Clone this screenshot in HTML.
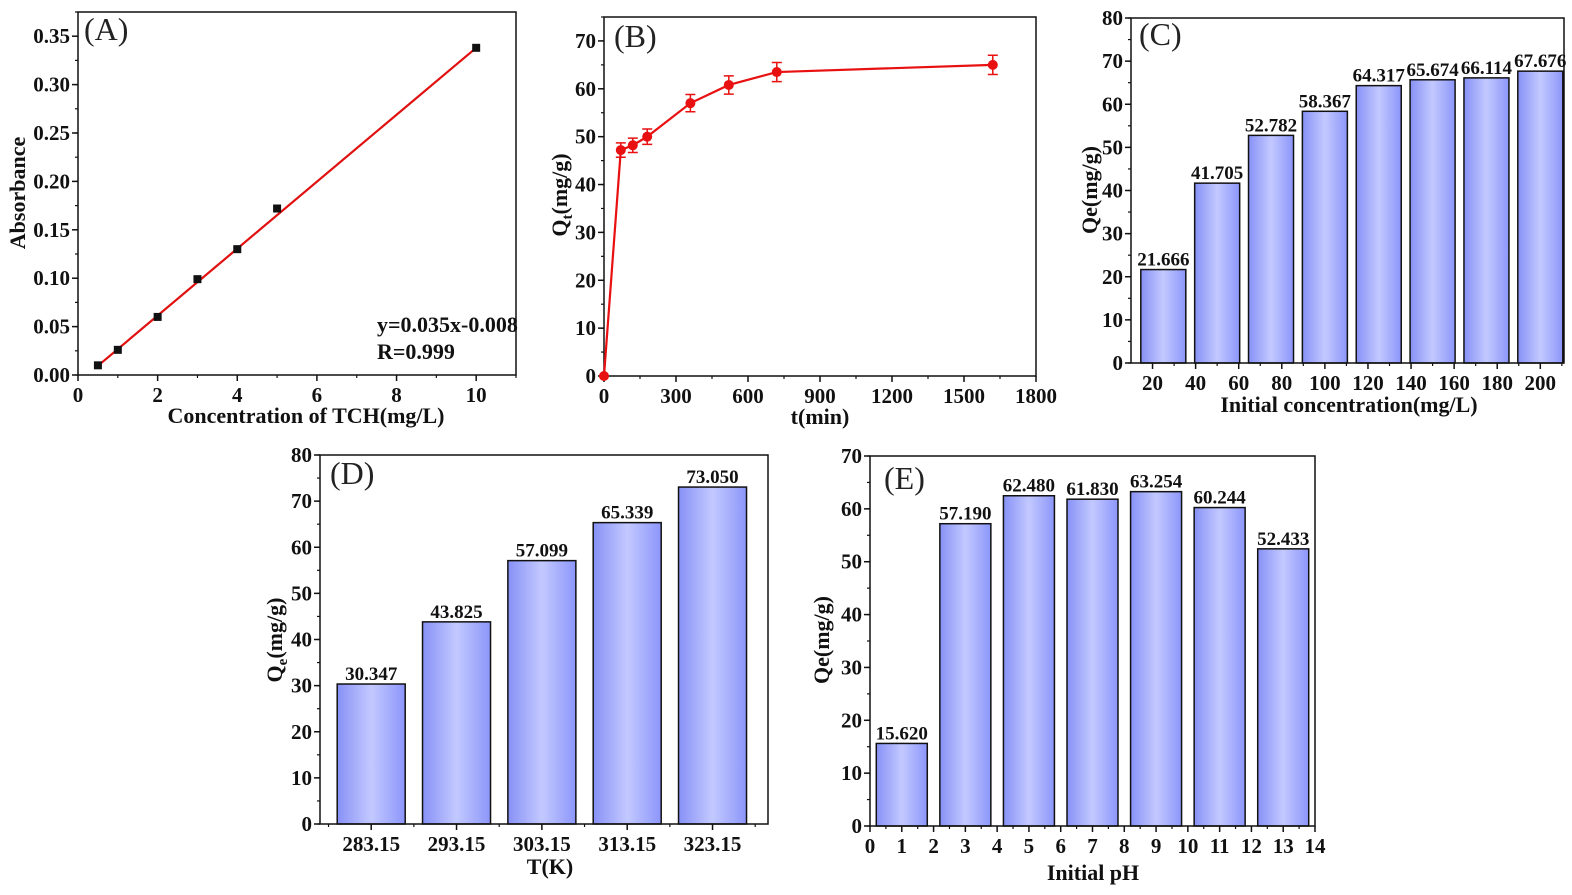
<!DOCTYPE html>
<html><head><meta charset="utf-8">
<style>
html,body{margin:0;padding:0;background:#fff;}
svg{display:block;font-family:"Liberation Serif","Times New Roman",serif;}
svg text{font-family:"Liberation Serif","Times New Roman",serif;}
.tk{font-weight:bold;font-size:21px;fill:#111;}
.at{font-weight:bold;font-size:22px;fill:#111;}
.pl{font-size:32px;fill:#222;}
.vl{font-weight:bold;font-size:19px;fill:#111;}
</style></head>
<body>
<svg id="fig" width="1572" height="895" viewBox="0 0 1572 895" xmlns="http://www.w3.org/2000/svg">
<defs>
<linearGradient id="bg" x1="0" x2="1" y1="0" y2="0">
<stop offset="0" stop-color="#8791f6"/><stop offset="0.5" stop-color="#c3c9ff"/><stop offset="1" stop-color="#8c96fa"/>
</linearGradient>
</defs>
</svg>
<script>
// Panel A data
const aX=[0.5,1,2,3,4,5,10];
const aY=[0.010,0.026,0.060,0.099,0.130,0.172,0.338];
const aFitX=[0.5,10];
const aFitY=[0.0095,0.338];
const aXTicks=[0,2,4,6,8,10];
const aYTicks=[0,0.05,0.10,0.15,0.20,0.25,0.30,0.35];
// Panel B data
const bT=[0,70,120,180,360,520,720,1620];
const bQ=[0,47.2,48.2,50.0,57.0,60.8,63.5,65.0];
const bErr=[0,1.5,1.5,1.6,1.8,1.9,2.0,2.0];
const bXTicks=[0,300,600,900,1200,1500,1800];
const bYTicks=[0,10,20,30,40,50,60,70];
// Panel C data
const cCat=[25,50,75,100,125,150,175,200];
const cVal=[21.666,41.705,52.782,58.367,64.317,65.674,66.114,67.676];
const cXTicks=[20,40,60,80,100,120,140,160,180,200];
const cYTicks=[0,10,20,30,40,50,60,70,80];
// Panel D data
const dCat=["283.15","293.15","303.15","313.15","323.15"];
const dVal=[30.347,43.825,57.099,65.339,73.050];
const dYTicks=[0,10,20,30,40,50,60,70,80];
// Panel E data
const eCat=[1,3,5,7,9,11,13];
const eVal=[15.620,57.190,62.480,61.830,63.254,60.244,52.433];
const eXTicks=[0,1,2,3,4,5,6,7,8,9,10,11,12,13,14];
const eYTicks=[0,10,20,30,40,50,60,70];

const NS="http://www.w3.org/2000/svg";
const svg=document.getElementById('fig');
function el(tag,attrs,parent,text){const e=document.createElementNS(NS,tag);for(const k in attrs)e.setAttribute(k,attrs[k]);if(text!==undefined)e.textContent=text;(parent||svg).appendChild(e);return e;}
function lin(d0,d1,r0,r1){return v=>r0+(v-d0)/(d1-d0)*(r1-r0);}

function frame(g,L,R,T,B){
  const f=el('rect',{x:L,y:T,width:R-L,height:B-T,fill:'none',stroke:'#111','stroke-width':1.5},g);
  
  
}
function yAxis(g,ys,ticks,L,fmt,minorStep,ymin,ymax){
  ticks.forEach(t=>{
    const y=ys(t);
    const l=el('line',{x1:L-6,x2:L,y1:y,y2:y,stroke:'#111','stroke-width':1.5},g);
    
    
    const tx=el('text',{x:L-8,y:y+7,'text-anchor':'end',class:'tk'},g,fmt(t));
    
    
  });
  for(let v=ymin;v<=ymax+1e-9;v+=minorStep){
    const y=ys(v);
    el('line',{x1:L-3,x2:L,y1:y,y2:y,stroke:'#111','stroke-width':1.2},g);
  }
}
function xAxis(g,xs,ticks,B,fmt,minor){
  ticks.forEach(t=>{
    const x=xs(t);
    const l=el('line',{x1:x,x2:x,y1:B,y2:B+6,stroke:'#111','stroke-width':1.5},g);
    
    
    const tx=el('text',{x:x,y:B+27,'text-anchor':'middle',class:'tk'},g,fmt(t));
    
    
  });
  (minor||[]).forEach(v=>{const x=xs(v);el('line',{x1:x,x2:x,y1:B,y2:B+3,stroke:'#111','stroke-width':1.2},g);});
}
function titles(g,xt,xx,xy,yt,yx,yy,sub){
  const a=el('text',{x:xx,y:xy,'text-anchor':'middle',class:'at'},g,xt);
  
  
  const b=el('text',{x:0,y:0,'text-anchor':'middle',class:'at',transform:`translate(${yx},${yy}) rotate(-90)`},g);
  
  
  if(sub){el('tspan',{},b,yt[0]);el('tspan',{'font-size':'15','dy':'5'},b,sub);el('tspan',{'dy':'-5'},b,yt[1]);}
  else b.textContent=yt;
}
function plabel(g,t,x,y){
  const p=el('text',{x:x,y:y,class:'pl'},g,t);
  
  
}
function bars(g,xs,ys,cats,vals,halfw,B){
  cats.forEach((c,i)=>{
    const x=xs(c),y=ys(vals[i]);
    const r=el('rect',{x:x-halfw,y:y,width:2*halfw,height:B-y,fill:'url(#bg)',stroke:'#111','stroke-width':1.5},g);
    
    
    const t=el('text',{x:x,y:y-4,'text-anchor':'middle',class:'vl'},g,vals[i].toFixed(3));
    
    
  });
}
function range(a,b,s){const r=[];for(let v=a;v<=b+1e-9;v+=s)r.push(v);return r;}

// ---------- Panel A ----------
{
const g=el('g',{});
const L=78,R=516,T=12,B=375;
const xs=lin(0,11,L,R),ys=lin(0,0.375,B,T);
frame(g,L,R,T,B);
yAxis(g,ys,aYTicks,L,v=>v.toFixed(2),0.025,0,0.375);
xAxis(g,xs,aXTicks,B,v=>String(v),range(1,11,2));
const fl=el('line',{x1:xs(aFitX[0]),y1:ys(aFitY[0]),x2:xs(aFitX[1]),y2:ys(aFitY[1]),stroke:'#e01010','stroke-width':2.2},g);

aX.forEach((x,i)=>{const s=el('rect',{x:xs(x)-4,y:ys(aY[i])-4,width:8,height:8,fill:'#111'},g);
});
const e1=el('text',{x:377,y:332,class:'at'},g,'y=0.035x-0.008');
const e2=el('text',{x:377,y:359,class:'at'},g,'R=0.999');
titles(g,'Concentration of TCH(mg/L)',306,423,'Absorbance',25,193);
plabel(g,'(A)',84,40);
}
// ---------- Panel B ----------
{
const g=el('g',{});
const L=604,R=1036,T=17,B=376;
const xs=lin(0,1800,L,R),ys=lin(0,75,B,T);
frame(g,L,R,T,B);
yAxis(g,ys,bYTicks,L,v=>String(v),5,0,75);
xAxis(g,xs,bXTicks,B,v=>String(v),range(150,1650,300));
const pts=bT.map((t,i)=>xs(t)+','+ys(bQ[i])).join(' ');
const pl=el('polyline',{points:pts,fill:'none',stroke:'#e81010','stroke-width':2.2},g);

bT.forEach((t,i)=>{
  const x=xs(t);
  if(bErr[i]>0){
    const y1=ys(bQ[i]+bErr[i]),y2=ys(bQ[i]-bErr[i]);
    const eb=el('path',{d:`M${x},${y1}V${y2}M${x-5},${y1}H${x+5}M${x-5},${y2}H${x+5}`,stroke:'#e81010','stroke-width':1.5,fill:'none'},g);
    
  }
  const c=el('circle',{cx:x,cy:ys(bQ[i]),r:5,fill:'#e81010'},g);
  
});
titles(g,'t(min)',820,424,['Q','(mg/g)'],567,195,'t');
plabel(g,'(B)',614,47);
}
// ---------- Panel C ----------
{
const g=el('g',{});
const L=1131,R=1564,T=18,B=363;
const xs=lin(10,211,L,R),ys=lin(0,80,B,T);
bars(g,xs,ys,cCat,cVal,22.5,B);
frame(g,L,R,T,B);
yAxis(g,ys,cYTicks,L,v=>String(v),5,0,80);
xAxis(g,xs,cXTicks,B,v=>String(v),range(30,210,20));
titles(g,'Initial concentration(mg/L)',1349,412,'Qe(mg/g)',1097,190);
plabel(g,'(C)',1139,45);
}
// ---------- Panel D ----------
{
const g=el('g',{});
const L=320,R=768,T=455,B=824;
const xs=lin(-0.6,4.65,L,R),ys=lin(0,80,B,T);
const idx=dCat.map((c,i)=>i);
bars(g,xs,ys,idx,dVal,34,B);
frame(g,L,R,T,B);
yAxis(g,ys,dYTicks,L,v=>String(v),5,0,80);
xAxis(g,xs,idx,B,i=>dCat[i],range(-0.5,4.5,1));
titles(g,'T(K)',550,874,['Q','(mg/g)'],282,640,'e');
plabel(g,'(D)',330,484);
}
// ---------- Panel E ----------
{
const g=el('g',{});
const L=870,R=1315,T=456,B=826;
const xs=lin(0,14,L,R),ys=lin(0,70,B,T);
bars(g,xs,ys,eCat,eVal,25.5,B);
frame(g,L,R,T,B);
yAxis(g,ys,eYTicks,L,v=>String(v),5,0,70);
xAxis(g,xs,eXTicks,B,v=>String(v),range(0.5,13.5,1));
titles(g,'Initial pH',1093,880,'Qe(mg/g)',829,640);
plabel(g,'(E)',884,489);
}
</script>
</body></html>
